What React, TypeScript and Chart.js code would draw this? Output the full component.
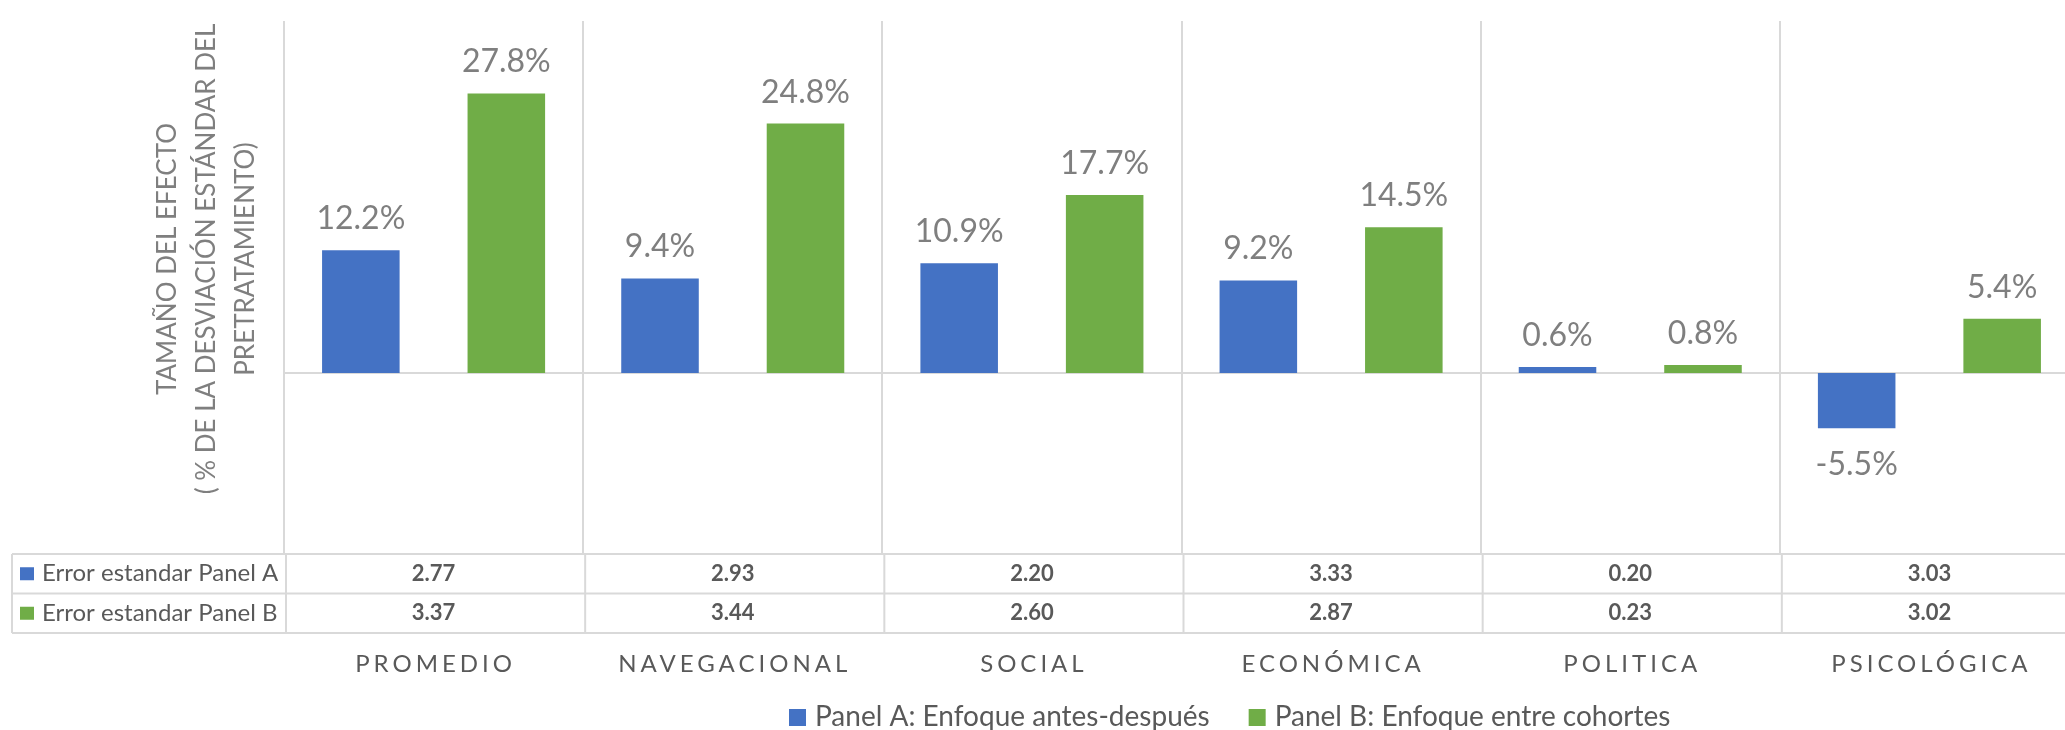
import React, { useEffect, useRef } from "react";
import { Chart, registerables } from "chart.js";

Chart.register(...registerables);

const categories = ["PROMEDIO", "NAVEGACIONAL", "SOCIAL", "ECONÓMICA", "POLITICA", "PSICOLÓGICA"];
const panelA = [12.2, 9.4, 10.9, 9.2, 0.6, -5.5];
const panelB = [27.8, 24.8, 17.7, 14.5, 0.8, 5.4];
const seA = ["2.77", "2.93", "2.20", "3.33", "0.20", "3.03"];
const seB = ["3.37", "3.44", "2.60", "2.87", "0.23", "3.02"];
const seaLabels = ["Error estandar Panel A", "Error estandar Panel B"];
const seriesLabels = ["Panel A: Enfoque antes-después", "Panel B: Enfoque entre cohortes"];
const axisTitle = ["TAMAÑO DEL EFECTO", "( % DE LA DESVIACIÓN ESTÁNDAR DEL", "PRETRATAMIENTO)"];
const colors = ["#4472C4", "#70AD47"];

const FONT = "Lato, 'Noto Sans', sans-serif";
const GRID = "#d9d9d9";

const overlay = {
  id: "overlay",
  beforeDatasetsDraw(chart: any) {
    const { ctx, chartArea } = chart;
    const y = chart.scales.y;
    const y0 = y.getPixelForValue(0);
    ctx.save();
    ctx.strokeStyle = GRID;
    ctx.lineWidth = 2;
    ctx.beginPath();
    ctx.moveTo(chartArea.left, y0);
    ctx.lineTo(chartArea.right, y0);
    ctx.stroke();
    ctx.restore();
  },
  afterDraw(chart: any) {
    const { ctx, chartArea } = chart;
    const xs = chart.scales.x;
    ctx.save();

    // data labels
    ctx.font = `32px ${FONT}`;
    ctx.fillStyle = "#7f7f7f";
    ctx.textAlign = "center";
    ctx.textBaseline = "alphabetic";
    chart.data.datasets.forEach((ds: any, di: number) => {
      const meta = chart.getDatasetMeta(di);
      meta.data.forEach((bar: any, i: number) => {
        const v = ds.data[i];
        const txt = v.toFixed(1) + "%";
        if (v >= 0) ctx.fillText(txt, bar.x, bar.y - 21);
        else ctx.fillText(txt, bar.x, bar.y + 47);
      });
    });

    // data table
    const top = chartArea.bottom + 1;
    const rowH = 39.5;
    const tableLeft = 12;
    const n = categories.length;
    const half = (xs.getPixelForValue(1) - xs.getPixelForValue(0)) / 2;
    ctx.strokeStyle = GRID;
    ctx.lineWidth = 2;
    ctx.beginPath();
    for (let r = 0; r <= 2; r++) {
      ctx.moveTo(tableLeft, top + r * rowH);
      ctx.lineTo(chartArea.right, top + r * rowH);
    }
    ctx.moveTo(tableLeft, top);
    ctx.lineTo(tableLeft, top + 2 * rowH);
    for (let i = 0; i <= n; i++) {
      const bx = xs.getPixelForValue(i) - half + 2;
      ctx.moveTo(bx, top);
      ctx.lineTo(bx, top + 2 * rowH);
    }
    ctx.stroke();

    const rows = [seA, seB];
    rows.forEach((row, r) => {
      const cy = top + r * rowH + rowH / 2;
      ctx.fillStyle = colors[r];
      ctx.fillRect(20, cy - 6.5, 14, 13);
      ctx.fillStyle = "#595959";
      ctx.font = `24px ${FONT}`;
      ctx.textAlign = "left";
      ctx.textBaseline = "middle";
      ctx.fillText(seaLabels[r], 42, cy);
      ctx.font = `bold 22px ${FONT}`;
      ctx.textAlign = "center";
      row.forEach((t, i) => ctx.fillText(t, xs.getPixelForValue(i), cy));
    });

    // category labels
    ctx.font = `24px ${FONT}`;
    ctx.fillStyle = "#595959";
    ctx.textAlign = "center";
    ctx.textBaseline = "alphabetic";
    (ctx as any).letterSpacing = "4px";
    categories.forEach((c, i) => ctx.fillText(c, xs.getPixelForValue(i) + 2, 672));
    (ctx as any).letterSpacing = "0px";

    // legend
    ctx.font = `28px ${FONT}`;
    ctx.textAlign = "left";
    let lx = 789;
    seriesLabels.forEach((l, i) => {
      ctx.fillStyle = colors[i];
      ctx.fillRect(lx, 709, 17, 17);
      ctx.fillStyle = "#595959";
      ctx.fillText(l, lx + 26, 726);
      lx += 26 + ctx.measureText(l).width + 39;
    });

    // axis title
    ctx.fillStyle = "#7f7f7f";
    ctx.font = `26px ${FONT}`;
    ctx.textAlign = "center";
    ctx.textBaseline = "middle";
    const lineXs = [168, 207, 246];
    axisTitle.forEach((t, i) => {
      ctx.save();
      ctx.translate(lineXs[i], 259);
      ctx.rotate(-Math.PI / 2);
      ctx.fillText(t, 0, 0);
      ctx.restore();
    });

    ctx.restore();
  },
};

export default function App() {
  const ref = useRef<HTMLCanvasElement>(null);
  useEffect(() => {
    if (!ref.current) return;
    const chart = new Chart(ref.current, {
      type: "bar",
      data: {
        labels: categories,
        datasets: [
          { label: seriesLabels[0], data: panelA, backgroundColor: colors[0], categoryPercentage: 0.9726, barPercentage: 0.533 },
          { label: seriesLabels[1], data: panelB, backgroundColor: colors[1], categoryPercentage: 0.9726, barPercentage: 0.533 },
        ],
      },
      options: {
        responsive: false,
        animation: false,
        layout: { padding: { left: 284, right: 11, top: 21, bottom: 177 } },
        plugins: { legend: { display: false }, tooltip: { enabled: false } },
        scales: {
          x: {
            grid: { offset: true, color: GRID, lineWidth: 2, drawTicks: false },
            border: { display: false },
            ticks: { display: false },
          },
          y: { display: false, min: -17.9, max: 35 },
        },
      },
      plugins: [overlay],
    });
    return () => chart.destroy();
  }, []);
  return (
    <div style={{ position: "fixed", left: 0, top: 0, width: 2065, height: 730, overflow: "hidden", background: "#fff" }}>
      <canvas ref={ref} width={2090} height={730} style={{ width: 2090, height: 730, display: "block" }} />
    </div>
  );
}
